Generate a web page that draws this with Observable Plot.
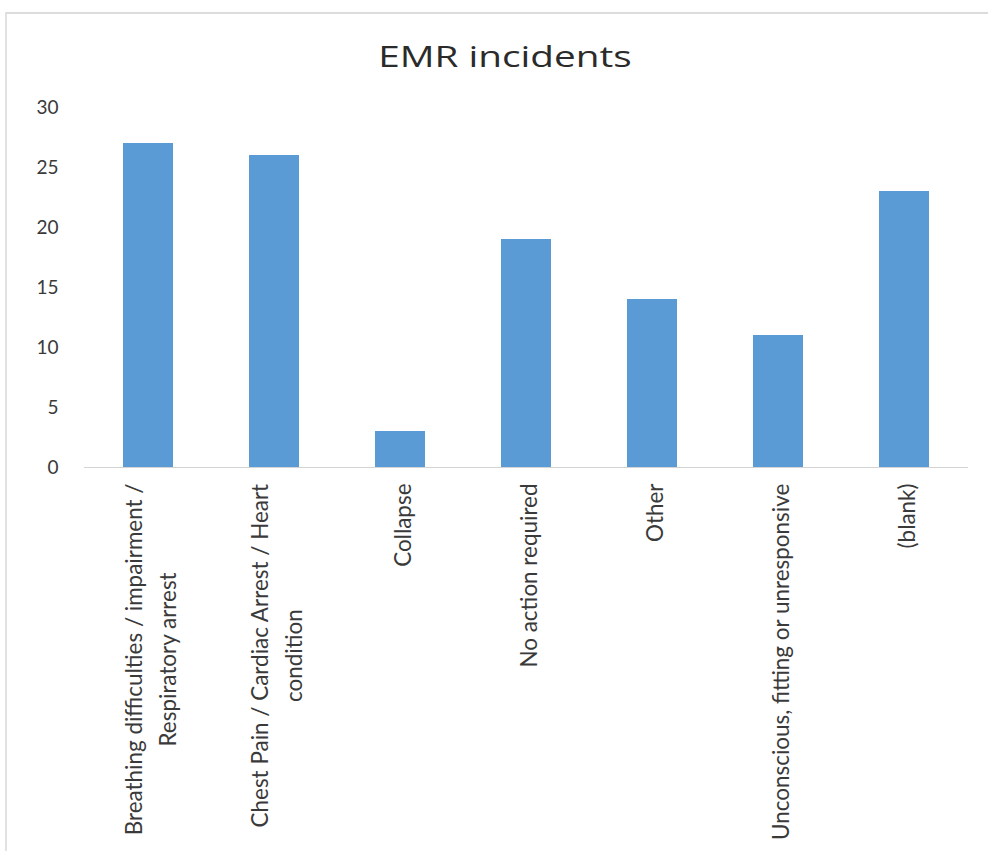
<!DOCTYPE html>
<html>
<head>
<meta charset="utf-8">
<script src="https://cdn.jsdelivr.net/npm/d3@7"></script>
<script src="https://cdn.jsdelivr.net/npm/@observablehq/plot@0.6"></script>
<style>
  html, body { margin: 0; padding: 0; background: #fff; }
  body { width: 988px; height: 851px; overflow: hidden; position: relative; }
  #frame { position: absolute; left: 5px; top: 12px; width: 990px; height: 850px;
           border-top: 2px solid #dcdcdc; border-left: 2px solid #e2e2e2; box-sizing: border-box; }
  #title { position: absolute; left: 0; top: 41px; width: 1010px; text-align: center;
           font-family: "Open Sans", sans-serif; font-size: 30px; line-height: 30px; color: #2b2b2b;
           transform: scaleX(1.29); transform-origin: 505px 0; }
  #chart { position: absolute; left: 0; top: 80px; }
</style>
</head>
<body>
<div id="frame"></div>
<div id="title">EMR incidents</div>
<div id="chart"></div>
<script>
const categories = [
  "Breathing difficulties / impairment / Respiratory arrest",
  "Chest Pain / Cardiac Arrest / Heart condition",
  "Collapse",
  "No action required",
  "Other",
  "Unconscious, fitting or unresponsive",
  "(blank)"
];
const counts = [27, 26, 3, 19, 14, 11, 23];
const labelLines = [
  ["Breathing difficulties / impairment /", "Respiratory arrest"],
  ["Chest Pain / Cardiac Arrest / Heart", "condition"],
  ["Collapse"],
  ["No action required"],
  ["Other"],
  ["Unconscious, fitting or unresponsive"],
  ["(blank)"]
];
const yTicks = [0, 5, 10, 15, 20, 25, 30];

const data = categories.map((c, i) => ({category: c, count: counts[i], lines: labelLines[i]}));

const LABEL_FONT = 'Lato, "Liberation Sans", sans-serif';
const ctx = document.createElement("canvas").getContext("2d");
// size the label font so the longest label line spans ~357px as in the reference
ctx.font = `100px ${LABEL_FONT}`;
const longest = Math.max(...labelLines.flat().map(s => ctx.measureText(s).width));
const LABEL_SIZE = Math.min(26, 357 * 100 / longest);
ctx.font = `${LABEL_SIZE}px ${LABEL_FONT}`;
const measure = s => ctx.measureText(s).width;

const labelMarks = data.map(d => {
  const w = Math.max(...d.lines.map(measure));
  return Plot.text([d], {
    x: "category",
    text: t => t.lines.join("\n"),
    frameAnchor: "bottom",
    rotate: -90,
    textAnchor: "middle",
    lineAnchor: "middle",
    lineHeight: 34 / LABEL_SIZE,
    dy: 16 + w / 2,
    fontSize: LABEL_SIZE,
    fontFamily: LABEL_FONT,
    fill: "#3a3a3a"
  });
});

const chart = Plot.plot({
  width: 988,
  height: 770,
  marginTop: 27,
  marginBottom: 383,
  marginLeft: 84,
  marginRight: 20,
  style: {background: "transparent", color: "#3a3a3a", overflow: "visible"},
  x: {domain: categories, paddingInner: 0.604, paddingOuter: 0.302, axis: null},
  y: {domain: [0, 30]},
  marks: [
    Plot.ruleY([0], {stroke: "#d4d4d4", strokeWidth: 1.2}),
    Plot.barY(data, {x: "category", y: "count", fill: "#5B9BD5"}),
    Plot.axisY({ticks: yTicks, tickSize: 0, tickPadding: 26, fontSize: 19,
                fontFamily: LABEL_FONT, label: null}),
    ...labelMarks
  ]
});
document.getElementById("chart").appendChild(chart);
</script>
</body>
</html>
